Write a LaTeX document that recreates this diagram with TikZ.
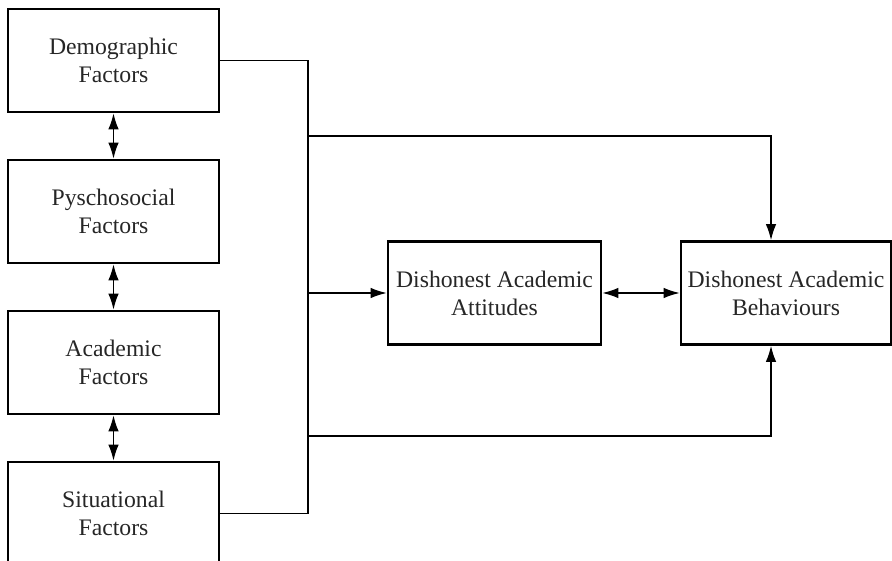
\documentclass[tikz,border=0pt]{standalone}
\usepackage{fontspec}
\setmainfont{Liberation Serif}
\usetikzlibrary{positioning,arrows.meta}
\tikzset{every picture/.style={>={Latex[length=16pt,width=10.5pt]},line width=1.2pt}}
\tikzset{factor box/.style={draw,line width=2.8pt,minimum width=211pt,minimum height=103pt,
    align=center,inner sep=0pt,text=black!85,font=\fontsize{23.7}{28}\selectfont}}

\begin{document}
\begin{tikzpicture}[x=1pt,y=-1pt]
      \useasboundingbox (0,0) rectangle (892,561);
      \clip (0,0) rectangle (892,561);
      % factor boxes on the left
      \node[factor box] (demo) at (113.5,60.5) {Demographic\\Factors};
      \node[factor box] (psych) at (113.5,211.5) {Pyschosocial\\Factors};
      \node[factor box] (acad) at (113.5,362.5) {Academic\\Factors};
      \node[factor box] (sit) at (113.5,513.5) {Situational\\Factors};
      % outcomes
      \node[factor box,minimum width=213pt] (att) at (494.5,293) {Dishonest Academic\\Attitudes};
      \node[factor box,minimum width=210pt] (behav) at (786,293) {Dishonest Academic\\Behaviours};
      \coordinate (b1) at (308,136);
      \coordinate (b2) at (308,293);
      \coordinate (b3) at (308,436);
      \draw[<->] (demo.south) -- (psych.north);
      \draw[<->] (psych.south) -- (acad.north);
      \draw[<->] (acad.south) -- (sit.north);
      \draw (demo.east) -| (b1) -- (b2) -- (b3) |- (sit.east);
      \draw[->] (b1) -| ([xshift=-15pt]behav.north);
      \draw[->] (b2) -- (att.west);
      \draw[->] (b3) -| ([xshift=-15pt]behav.south);
      \draw[<->] (att.east) -- (behav.west);
    \end{tikzpicture}
\end{document}
